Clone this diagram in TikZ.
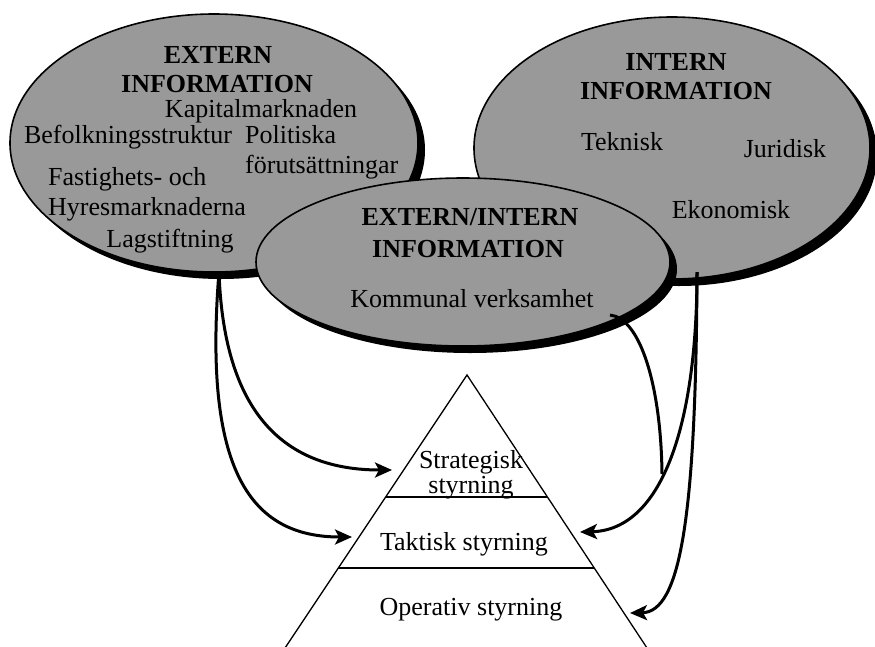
\documentclass[tikz,border=0pt]{standalone}
\usepackage{fontspec}
\setmainfont{Liberation Serif}
\usetikzlibrary{shapes.geometric,shadows,arrows.meta,calc}
\definecolor{infogray}{gray}{0.6}
\begin{document}
\begin{tikzpicture}[x=1pt,y=-1pt,
  blob/.style={ellipse, draw=black, line width=1.6pt, fill=infogray, inner sep=0pt,
    drop shadow={shadow xshift=7pt, shadow yshift=-7pt, opacity=1, fill=black}},
  txt/.style={anchor=base, inner sep=0pt, font=\fontsize{26}{30}\selectfont},
  txtw/.style={txt, anchor=base west},
  head/.style={txt, font=\fontsize{26}{30}\selectfont\bfseries},
  flow/.style={line width=3pt, -{Stealth[length=17pt,width=15pt,inset=4pt]}},
  flowplain/.style={line width=3pt},
  pyr/.style={line width=1.3pt}]
\useasboundingbox (0,0) rectangle (875,646);

% ellipses
\node[blob, minimum width=408pt, minimum height=258pt] (ext) at (214,143) {};
\node[blob, minimum width=396pt, minimum height=262pt] (int) at (672,148) {};
\node[blob, minimum width=414pt, minimum height=168pt] (mid) at (463,262) {};

% texts: left
\node[head] (extA) at (218,63) {EXTERN};
\node[head] (extB) at (217,92) {INFORMATION};
\node[txt] (kap) at (261,117) {Kapitalmarknaden};
\node[txt] (bef) at (128,143) {Befolkningsstruktur};
\node[txtw] (pol) at (245,143) {Politiska};
\node[txtw] (forut) at (245,173) {förutsättningar};
\node[txtw] (fast) at (48,185) {Fastighets- och};
\node[txtw] (hyr) at (48,215) {Hyresmarknaderna};
\node[txt] (lag) at (170,247) {Lagstiftning};

% texts: right
\node[head] (intA) at (676,70) {INTERN};
\node[head] (intB) at (676,99) {INFORMATION};
\node[txt] (tek) at (622,150) {Teknisk};
\node[txt] (jur) at (785,157) {Juridisk};
\node[txt] (eko) at (731,218) {Ekonomisk};

% texts: middle
\node[head] (midA) at (470,225) {EXTERN/INTERN};
\node[head] (midB) at (468,257) {INFORMATION};
\node[txt] (kom) at (472,307) {Kommunal verksamhet};

% pyramid
\coordinate (apex) at (467,375);
\coordinate (bl) at (283,651);
\coordinate (br) at (649,651);
\draw[pyr] (bl) -- (apex) -- (br);
\draw[pyr] ($(apex)!0.442!(bl)$) -- ($(apex)!0.442!(br)$);
\draw[pyr] ($(apex)!0.699!(bl)$) -- ($(apex)!0.699!(br)$);
\node[txt] (strA) at (471,468) {Strategisk};
\node[txt] (strB) at (471,493) {styrning};
\node[txt] (tak) at (464,550) {Taktisk styrning};
\node[txt] (ope) at (471,615) {Operativ styrning};

% connectors
\coordinate (ls) at (219,272);
\coordinate (lsT) at (392,470);
\coordinate (ltT) at (352,537);
\coordinate (rs) at (697,272);
\coordinate (rtT) at (580,532);
\coordinate (roT) at (630,613);
\coordinate (ks) at (610,315);
\coordinate (kj) at (662,474);
\draw[flow] (ls) .. controls (224,420) and (290,470) .. (lsT);
\draw[flow] (ls) .. controls (203,470) and (250,537) .. (ltT);
\draw[flow] (rs) .. controls (697,430) and (660,530) .. (rtT);
\draw[flow] (rs) .. controls (696,520) and (680,612) .. (roT);
\draw[flowplain] (ks) .. controls (640,318) and (661,385) .. (kj);
\end{tikzpicture}
\end{document}
